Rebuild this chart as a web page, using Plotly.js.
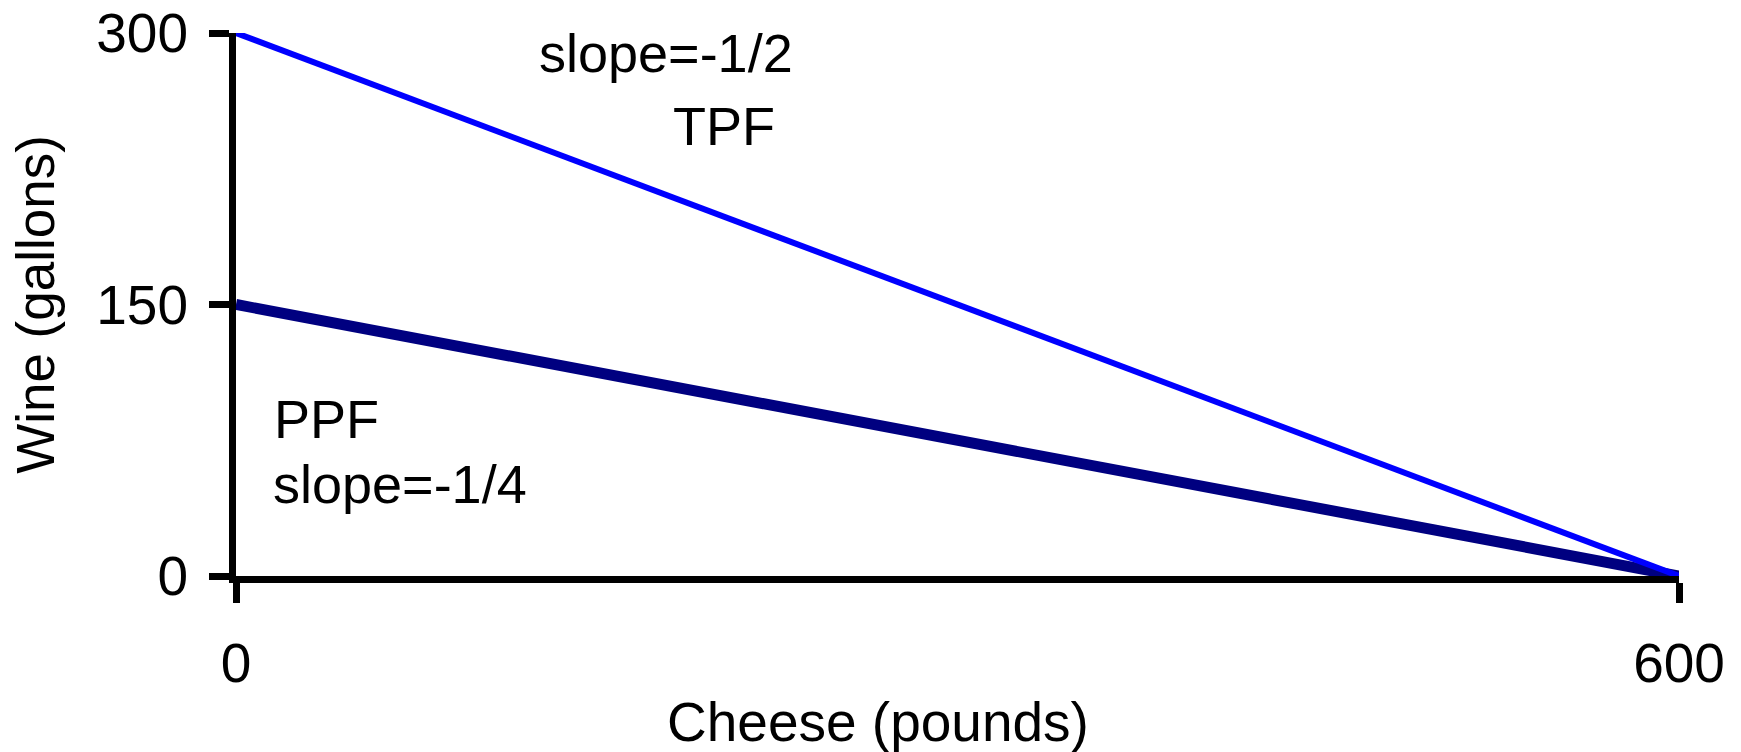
<!DOCTYPE html>
<html>
<head>
<meta charset="utf-8">
<script src="https://cdn.plot.ly/plotly-3.0.1.min.js"></script>
<style>
html,body{margin:0;padding:0;background:#fff;}
#chart{width:1741px;height:752px;}
</style>
</head>
<body>
<div id="chart"></div>
<script>
// Data
const cheese = [0, 600];
const tpfWine = [300, 0];
const ppfWine = [150, 0];
const xTickVals = [0, 600];
const xTickText = ["0", "600"];
const yTickVals = [0, 150, 300];
const yTickText = ["0", "150", "300"];
const xTitle = "Cheese (pounds)";
const yTitle = "Wine (gallons)";
const labels = ["slope=-1/2", "TPF", "PPF", "slope=-1/4"];

const FONT = "Liberation Sans, Arial, sans-serif";

const traces = [
  {x: cheese, y: ppfWine, mode: "lines", name: "PPF",
   line: {color: "#000080", width: 11}, hoverinfo: "skip"},
  {x: cheese, y: tpfWine, mode: "lines", name: "TPF",
   line: {color: "#0000FF", width: 6}, hoverinfo: "skip"}
];

const layout = {
  width: 1741, height: 752,
  margin: {l: 236, r: 62, t: 33, b: 176, pad: 0},
  paper_bgcolor: "#ffffff", plot_bgcolor: "#ffffff",
  showlegend: false,
  font: {family: FONT, color: "#000000", size: 55},
  xaxis: {
    range: [0, 600], fixedrange: true,
    showgrid: false, zeroline: false,
    showline: true, linecolor: "#000000", linewidth: 7,
    ticks: "outside", ticklen: 20, tickwidth: 7, tickcolor: "#000000",
    tickmode: "array", tickvals: xTickVals, ticktext: xTickText,
    tickfont: {family: FONT, size: 55, color: "#000000"},
    ticklabelstandoff: 13
  },
  yaxis: {
    range: [0, 300], fixedrange: true,
    showgrid: false, zeroline: false,
    showline: true, linecolor: "#000000", linewidth: 7,
    ticks: "outside", ticklen: 20, tickwidth: 7, tickcolor: "#000000",
    tickmode: "array", tickvals: yTickVals, ticktext: yTickText,
    tickfont: {family: FONT, size: 55, color: "#000000"},
    ticklabelstandoff: 10,
    title: {text: yTitle, font: {family: FONT, size: 53, color: "#000000"}, standoff: 27}
  },
  annotations: [
    {text: xTitle, x: 0.445, y: -0.269, xref: "paper", yref: "paper", xanchor: "center", yanchor: "middle", showarrow: false, font: {family: FONT, size: 55, color: "#000"}},
    {text: labels[0], x: 178.8, y: 289, xref: "x", yref: "y", xanchor: "center", yanchor: "middle", showarrow: false, font: {family: FONT, size: 54, color: "#000"}},
    {text: labels[1], x: 203, y: 248.6, xref: "x", yref: "y", xanchor: "center", yanchor: "middle", showarrow: false, font: {family: FONT, size: 54, color: "#000"}},
    {text: labels[2], x: 15, y: 87, xref: "x", yref: "y", xanchor: "left", yanchor: "middle", showarrow: false, font: {family: FONT, size: 54, color: "#000"}},
    {text: labels[3], x: 14.5, y: 51, xref: "x", yref: "y", xanchor: "left", yanchor: "middle", showarrow: false, font: {family: FONT, size: 54, color: "#000"}}
  ]
};

Plotly.newPlot("chart", traces, layout, {displayModeBar: false, staticPlot: true});
</script>
</body>
</html>
